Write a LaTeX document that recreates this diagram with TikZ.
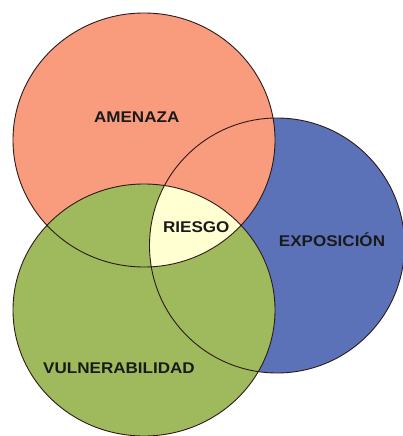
\documentclass[tikz,border=0pt]{standalone}
\usepackage{fontspec}
\setmainfont{Liberation Sans}
\usepackage{graphicx}
\definecolor{amenaza}{HTML}{F99B7D}
\definecolor{exposicion}{HTML}{5B72B9}
\definecolor{vulner}{HTML}{9EBA5C}
\definecolor{riesgo}{HTML}{FFFFD2}
\definecolor{rim}{HTML}{2E1A1A}
\definecolor{ink}{HTML}{1A1A1A}
\tikzset{
  rimline/.style={draw=rim, line width=0.9pt},
  lbl/.style={anchor=base, inner sep=0pt, text=ink, font=\fontsize{15.5}{18}\selectfont\bfseries},
}
\newcommand{\wide}[1]{\scalebox{1.1}[1]{#1}}
\begin{document}
\begin{tikzpicture}[x=1pt,y=-1pt]
\useasboundingbox (0,0) rectangle (403,436);
\def\redC{(144,140) ellipse [x radius=131, y radius=127]}
\def\bluC{(277,245.5) ellipse [x radius=127.5, y radius=127.5]}
\def\grnC{(144,310) ellipse [x radius=131, y radius=126]}
\fill[exposicion] \bluC;
\fill[amenaza] \redC;
\fill[vulner] \grnC;
\begin{scope}
  \clip \redC;
  \clip \bluC;
  \fill[riesgo] \grnC;
\end{scope}
\draw[rimline] \bluC;
\draw[rimline] \redC;
\draw[rimline] \grnC;
\node[lbl] (amenaza) at (136.7,122.7) {\wide{AMENAZA}};
\node[lbl] (riesgo) at (196.3,232.3) {\wide{RIESGO}};
\node[lbl] (exposicion) at (332,246.7) {\wide{EXPOSICIÓN}};
\node[lbl] (vulnerabilidad) at (119,373.3) {\wide{VULNERABILIDAD}};
\end{tikzpicture}
\end{document}
